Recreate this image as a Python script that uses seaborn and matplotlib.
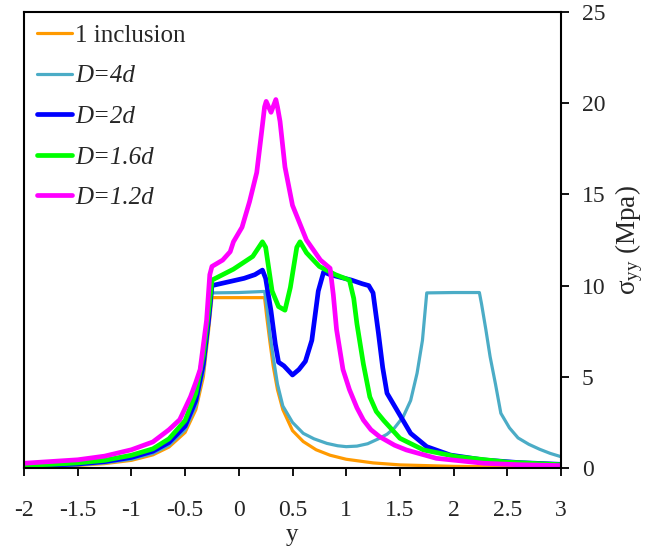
import matplotlib
matplotlib.use("Agg")
import matplotlib.pyplot as plt
import seaborn as sns
import pandas as pd

# ---------------- data ----------------
labels = ["1 inclusion", "D=4d", "D=2d", "D=1.6d", "D=1.2d"]
colors = ["#FF9A00", "#4BACC6", "#0000FF", "#00FF00", "#FF00FF"]

x_one = [-2, -1.75, -1.5, -1.25, -1.0, -0.8, -0.65, -0.5, -0.4, -0.33, -0.28, -0.25,
         0.24, 0.26, 0.29, 0.32, 0.36, 0.41, 0.5, 0.6, 0.72, 0.85, 1.0, 1.25, 1.5,
         2.0, 2.5, 3.0]
y_one = [0.06, 0.09, 0.14, 0.24, 0.42, 0.72, 1.15, 1.95, 3.2, 5.0, 7.6, 9.34,
         9.34, 8.3, 6.9, 5.6, 4.3, 3.2, 2.05, 1.45, 1.0, 0.7, 0.48, 0.28, 0.17,
         0.09, 0.06, 0.04]

x_4d = [-2, -1.75, -1.5, -1.25, -1.0, -0.8, -0.65, -0.5, -0.4, -0.33,
        -0.28, -0.25, 0.0, 0.24, 0.26, 0.29, 0.32, 0.36, 0.41, 0.5,
        0.6, 0.7, 0.82, 0.92, 1.0, 1.1, 1.2, 1.3, 1.38, 1.45,
        1.53, 1.6, 1.66, 1.71, 1.75, 2.0, 2.24, 2.26, 2.3, 2.34,
        2.39, 2.44, 2.52, 2.6, 2.7, 2.8, 2.9, 3.0]
y_4d = [0.08, 0.11, 0.17, 0.28, 0.48, 0.8, 1.25, 2.1, 3.4, 5.3,
        7.9, 9.6, 9.62, 9.68, 8.9, 7.3, 6.1, 4.6, 3.4, 2.5,
        1.9, 1.6, 1.35, 1.22, 1.17, 1.2, 1.33, 1.6, 1.85, 2.2,
        2.8, 3.7, 5.2, 7.0, 9.6, 9.62, 9.62, 9.0, 7.6, 6.1,
        4.6, 3.0, 2.2, 1.65, 1.3, 1.03, 0.8, 0.62]

x_2d = [-2, -1.75, -1.5, -1.25, -1.0, -0.8, -0.65, -0.5, -0.4, -0.33,
        -0.28, -0.25, -0.1, 0.05, 0.15, 0.22, 0.25, 0.3, 0.34, 0.37,
        0.42, 0.5, 0.56, 0.62, 0.68, 0.74, 0.79, 0.85, 0.95, 1.05,
        1.15, 1.21, 1.25, 1.3, 1.34, 1.38, 1.47, 1.55, 1.6, 1.75,
        1.97, 2.28, 2.6, 3.0]
y_2d = [0.12, 0.16, 0.22, 0.35, 0.58, 0.92, 1.4, 2.3, 3.7, 5.7,
        8.2, 10.0, 10.2, 10.4, 10.6, 10.85, 10.4, 8.6, 6.8, 5.8,
        5.6, 5.1, 5.4, 5.85, 7.0, 9.7, 10.75, 10.6, 10.45, 10.3,
        10.1, 10.0, 9.6, 7.4, 5.5, 4.1, 3.2, 2.4, 1.9, 1.17,
        0.71, 0.44, 0.3, 0.2]

x_16d = [-2, -1.75, -1.5, -1.25, -1.0, -0.8, -0.65, -0.5, -0.4, -0.33,
         -0.28, -0.25, -0.05, 0.13, 0.22, 0.25, 0.28, 0.31, 0.37, 0.43,
         0.48, 0.54, 0.57, 0.63, 0.75, 0.9, 1.03, 1.07, 1.1, 1.16,
         1.22, 1.28, 1.35, 1.5, 1.72, 2.03, 2.5, 3.0]
y_16d = [0.15, 0.2, 0.28, 0.42, 0.7, 1.05, 1.6, 2.6, 4.1, 6.2,
         8.7, 10.3, 10.9, 11.6, 12.4, 12.1, 10.9, 9.7, 8.85, 8.65,
         9.9, 12.1, 12.4, 11.8, 11.05, 10.6, 10.3, 9.3, 7.9, 5.7,
         3.9, 3.1, 2.6, 1.63, 0.99, 0.62, 0.32, 0.18]

x_12d = [-2, -1.5, -1.25, -1.0, -0.8, -0.65, -0.55, -0.45, -0.4, -0.36,
         -0.3, -0.27, -0.25, -0.15, -0.08, -0.05, 0.03, 0.1, 0.167, 0.21,
         0.24, 0.255, 0.3, 0.345, 0.36, 0.384, 0.43, 0.5, 0.63, 0.76,
         0.85, 0.88, 0.91, 0.94, 0.97, 1.03, 1.1, 1.16, 1.23, 1.31,
         1.45, 1.56, 1.84, 2.28, 2.6, 3.0]
y_12d = [0.26, 0.45, 0.65, 1.0, 1.43, 2.1, 2.65, 3.9, 4.7, 5.4,
         8.1, 10.6, 11.05, 11.4, 11.86, 12.4, 13.2, 14.6, 16.2, 18.3,
         19.8, 20.1, 19.5, 20.2, 19.8, 19.0, 16.5, 14.4, 12.5, 11.4,
         10.95, 9.5, 7.6, 6.5, 5.4, 4.3, 3.3, 2.63, 2.1, 1.72,
         1.25, 0.99, 0.53, 0.26, 0.18, 0.13]

x_ticks = [-2, -1.5, -1, -0.5, 0, 0.5, 1, 1.5, 2, 2.5, 3]
x_tick_labels = ["-2", "-1.5", "-1", "-0.5", "0", "0.5", "1", "1.5", "2", "2.5", "3"]
y_ticks = [0, 5, 10, 15, 20, 25]

series_x = [x_one, x_4d, x_2d, x_16d, x_12d]
series_y = [y_one, y_4d, y_2d, y_16d, y_12d]
widths = [2.3, 2.3, 3.4, 3.4, 3.4]

# ---------------- style ----------------
sns.set_theme(style="white")
plt.rcParams["font.family"] = ["Liberation Serif", "DejaVu Serif"]
plt.rcParams["mathtext.fontset"] = "custom"
plt.rcParams["mathtext.rm"] = "Liberation Serif"
plt.rcParams["mathtext.it"] = "Liberation Serif:italic"

fig = plt.figure(figsize=(6.45, 5.49), dpi=100)
ax = fig.add_axes([24 / 645, 1 - 468 / 549, (561 - 24) / 645, (468 - 12) / 549])

for xs, ys, lab, col, lw in zip(series_x, series_y, labels, colors, widths):
    df = pd.DataFrame({"y": xs, "s": ys})
    sns.lineplot(data=df, x="y", y="s", ax=ax, color=col, linewidth=lw,
                 label=lab, sort=False, estimator=None)

ax.set_xlim(-2, 3)
ax.set_ylim(0, 25)
ax.set_xticks(x_ticks)
ax.set_xticklabels(x_tick_labels)
ax.set_yticks(y_ticks)

ax.yaxis.tick_right()
ax.yaxis.set_label_position("right")
ax.tick_params(axis="x", which="both", direction="out", length=6, width=1.3,
               color="black", labelsize=17, pad=17, bottom=True, top=False)
ax.tick_params(axis="y", which="both", direction="out", length=6, width=1.3,
               color="black", labelsize=17, pad=9, right=True, left=False)

for sp in ax.spines.values():
    sp.set_visible(True)
    sp.set_color("black")
    sp.set_linewidth(1.5)

ax.set_xlabel("y", fontsize=18, labelpad=2)
ax.set_ylabel(r"σ$_{\rm yy}$ (Mpa)", fontsize=19.5, labelpad=6)

leg = ax.legend(loc="upper left", bbox_to_anchor=(0.0, 1.0), frameon=False,
                fontsize=18, handlelength=1.4, handletextpad=0.15,
                labelspacing=0.72, borderaxespad=0.3, borderpad=0.2)
for i, t in enumerate(leg.get_texts()):
    if i > 0:
        t.set_fontstyle("italic")
for h, lw in zip(leg.legend_handles, widths):
    h.set_linewidth(lw)

ax.grid(False)
fig.savefig("out.png", dpi=100)
